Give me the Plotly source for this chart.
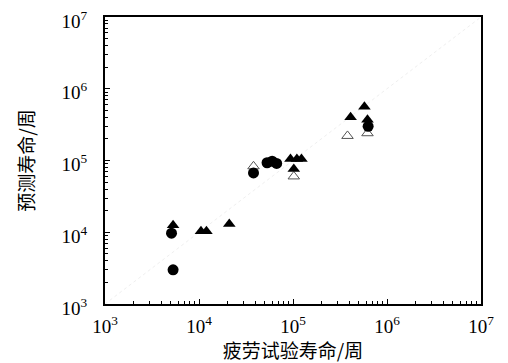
import plotly.graph_objects as go

# Filled circles
circle_test = [5300, 5100, 38000, 53000, 60000, 67000, 630000]
circle_pred = [3000, 9700, 67000, 93000, 98000, 91000, 300000]

# Filled triangles
tri_test = [5300, 10500, 12000, 21000, 94000, 110000, 123000, 102000, 410000, 575000, 620000]
tri_pred = [12500, 10300, 10300, 13000, 105000, 105000, 105000, 76000, 400000, 560000, 370000]

# Open triangles
otri_test = [38000, 102000, 380000, 620000]
otri_pred = [83000, 60000, 220000, 240000]

# 1:1 reference line
ref_line = [1e3, 1e7]

decades = [1e3, 1e4, 1e5, 1e6, 1e7]
decade_labels = ["10<sup>3</sup>", "10<sup>4</sup>", "10<sup>5</sup>", "10<sup>6</sup>", "10<sup>7</sup>"]
minor_vals = [m * d for d in decades[:-1] for m in range(2, 10)]

fig = go.Figure()
fig.add_trace(go.Scatter(x=ref_line, y=ref_line, mode="lines",
                         line=dict(color="#efefef", width=1, dash="dot"),
                         showlegend=False, hoverinfo="skip"))
fig.add_trace(go.Scatter(x=otri_test, y=otri_pred, mode="markers",
                         marker=dict(symbol="triangle-up-open", size=10, color="#555555",
                                     line=dict(width=1)),
                         showlegend=False))
fig.add_trace(go.Scatter(x=circle_test, y=circle_pred, mode="markers",
                         marker=dict(symbol="circle", size=11, color="black"),
                         showlegend=False))
fig.add_trace(go.Scatter(x=tri_test, y=tri_pred, mode="markers",
                         marker=dict(symbol="triangle-up", size=11, color="black"),
                         showlegend=False))

axis_common = dict(
    type="log", automargin=False, ticklabeloverflow="allow",
    showgrid=False, zeroline=False,
    showline=True, linecolor="black", linewidth=2, mirror=True,
    ticks="inside", ticklen=5, tickcolor="black", tickwidth=1,
    tickmode="array", tickvals=decades, ticktext=decade_labels,
    tickfont=dict(family="Liberation Serif", size=19, color="black"),
    minor=dict(ticks="inside", ticklen=3, tickcolor="black", tickwidth=1,
               tickmode="array", tickvals=minor_vals),
)

fig.update_xaxes(**axis_common, range=[3, 7], ticklabelstandoff=4,
                 title=dict(text="疲劳试验寿命/周", standoff=2,
                            font=dict(family="Noto Sans CJK SC", size=19, color="black")))
fig.update_yaxes(**axis_common, range=[3, 7], ticklabelstandoff=12, ticklabelshift=4,
                 title=dict(text="预测寿命/周", standoff=22,
                            font=dict(family="Noto Sans CJK SC", size=19, color="black")))

fig.update_layout(
    width=500, height=355,
    margin=dict(l=97, r=27, t=9, b=59),
    paper_bgcolor="white", plot_bgcolor="white",
    font=dict(family="Liberation Serif", color="black"),
)

fig.write_html("out.html")
